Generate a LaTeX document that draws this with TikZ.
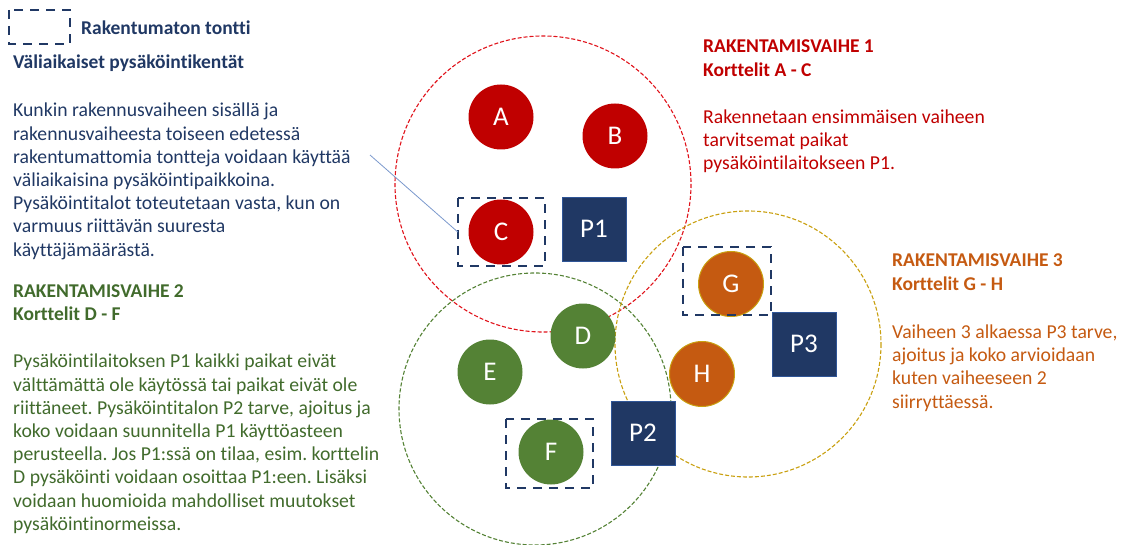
\documentclass[tikz,border=0pt]{standalone}
\usepackage{fontspec}
\setmainfont{Carlito}[Ligatures=NoCommon]
\frenchspacing
\definecolor{navy}{HTML}{203864}
\definecolor{navyline}{HTML}{2F5597}
\definecolor{phasered}{HTML}{C00000}
\definecolor{ringred}{HTML}{E0131B}
\definecolor{phasegreen}{HTML}{548235}
\definecolor{textgreen}{HTML}{416B2C}
\definecolor{phaseorange}{HTML}{C55A11}
\definecolor{ringgold}{HTML}{C9A010}
\definecolor{leader}{HTML}{7A98CC}
\tikzset{
  ring/.style={draw, dashed, line width=1.1pt, dash pattern=on 4pt off 2pt},
  block/.style={circle, minimum size=65pt, inner sep=0pt, text=white,
    font=\fontsize{27}{29}\selectfont},
  hall/.style={rectangle, minimum size=64pt, inner sep=0pt, fill=navy,
    draw=navyline, line width=0.8pt, text=white, font=\fontsize{27}{29}\selectfont},
  lot/.style={draw=navy, line width=2.4pt, dash pattern=on 9pt off 7pt},
  bodytext/.style={anchor=north west, inner sep=0pt, align=left,
    font=\fontsize{19.7}{23.2}\selectfont},
  headtext/.style={anchor=north west, inner sep=0pt, align=left,
    font=\fontsize{19.5}{23.4}\selectfont\bfseries},
}
\begin{document}
\begin{tikzpicture}[x=1pt, y=-1pt]
  \useasboundingbox (0,0) rectangle (1124,545);

  % phase areas
  \draw[ring, ringred] (543,184) circle (148);
  \draw[ring, phasegreen] (535,409) circle (136);
  \draw[ring, ringgold] (748,344) circle (133);

  % blocks of phase 1
  \node[block, fill=phasered] (A) at (501,117) {A};
  \node[block, fill=phasered] (B) at (615,136) {B};
  \node[block, fill=phasered] (C) at (501,232) {C};
  % blocks of phase 2
  \node[block, fill=phasegreen] (D) at (583,336) {D};
  \node[block, fill=phasegreen] (E) at (490,372) {E};
  \node[block, fill=phasegreen] (F) at (551,452) {F};
  % blocks of phase 3
  \node[block, fill=phaseorange, draw=ringgold, line width=1pt] (G) at (731,284) {G};
  \node[block, fill=phaseorange, draw=ringgold, line width=1pt] (H) at (702,374) {H};

  % parking halls
  \node[hall] (P1) at (594,229) {P1};
  \node[hall] (P2) at (643,433) {P2};
  \node[hall] (P3) at (804,344) {P3};

  % unbuilt plots
  \draw[lot] (458,198) rectangle (545,266);
  \node[inner sep=0pt, minimum width=87pt, minimum height=68pt] (cbox) at (501.5,232) {};
  \draw[lot] (506,419) rectangle (593,488);
  \draw[lot] (683,247) rectangle (771,315);

  % legend
  \draw[lot] (9,10) rectangle (70,44);
  \node[headtext, text=navy, anchor=base west] (legend) at (81,35) {Rakentumaton tontti};
  \node[headtext, text=navy, anchor=base west] (temp) at (13,68.3) {Väliaikaiset pysäköintikentät};

  % general note
  \node[bodytext, text=navy] (note) at (13,100.5) {\strut Kunkin rakennusvaiheen sisällä ja\\
    rakennusvaiheesta toiseen edetessä\\
    rakentumattomia tontteja voidaan käyttää\\
    väliaikaisina pysäköintipaikkoina.\\
    Pysäköintitalot toteutetaan vasta, kun on\\
    varmuus riittävän suuresta\\
    käyttäjämäärästä.};
  \coordinate (lead) at (370,155);
  \draw[leader, line width=0.8pt] (lead) -- (cbox.west);

  % phase 1
  \node[headtext, text=phasered] (h1) at (703,36.3) {\strut RAKENTAMISVAIHE 1\\Korttelit A - C};
  \node[bodytext, text=phasered] (t1) at (703,107) {\strut Rakennetaan ensimmäisen vaiheen\\
    tarvitsemat paikat\\
    pysäköintilaitokseen P1.};

  % phase 2
  \node[headtext, text=textgreen] (h2) at (13,280.9) {\strut RAKENTAMISVAIHE 2\\Korttelit D - F};
  \node[bodytext, text=textgreen] (t2) at (13,351.5) {\strut Pysäköintilaitoksen P1 kaikki paikat eivät\\
    välttämättä ole käytössä tai paikat eivät ole\\
    riittäneet. Pysäköintitalon P2 tarve, ajoitus ja\\
    koko voidaan suunnitella P1 käyttöasteen\\
    perusteella. Jos P1:ssä on tilaa, esim. korttelin\\
    D pysäköinti voidaan osoittaa P1:een. Lisäksi\\
    voidaan huomioida mahdolliset muutokset\\
    pysäköintinormeissa.};

  % phase 3
  \node[headtext, text=phaseorange] (h3) at (892,250.3) {\strut RAKENTAMISVAIHE 3\\Korttelit G - H};
  \node[bodytext, text=phaseorange] (t3) at (892,322) {\strut Vaiheen 3 alkaessa P3 tarve,\\
    ajoitus ja koko arvioidaan\\
    kuten vaiheeseen 2\\
    siirryttäessä.};
\end{tikzpicture}
\end{document}
